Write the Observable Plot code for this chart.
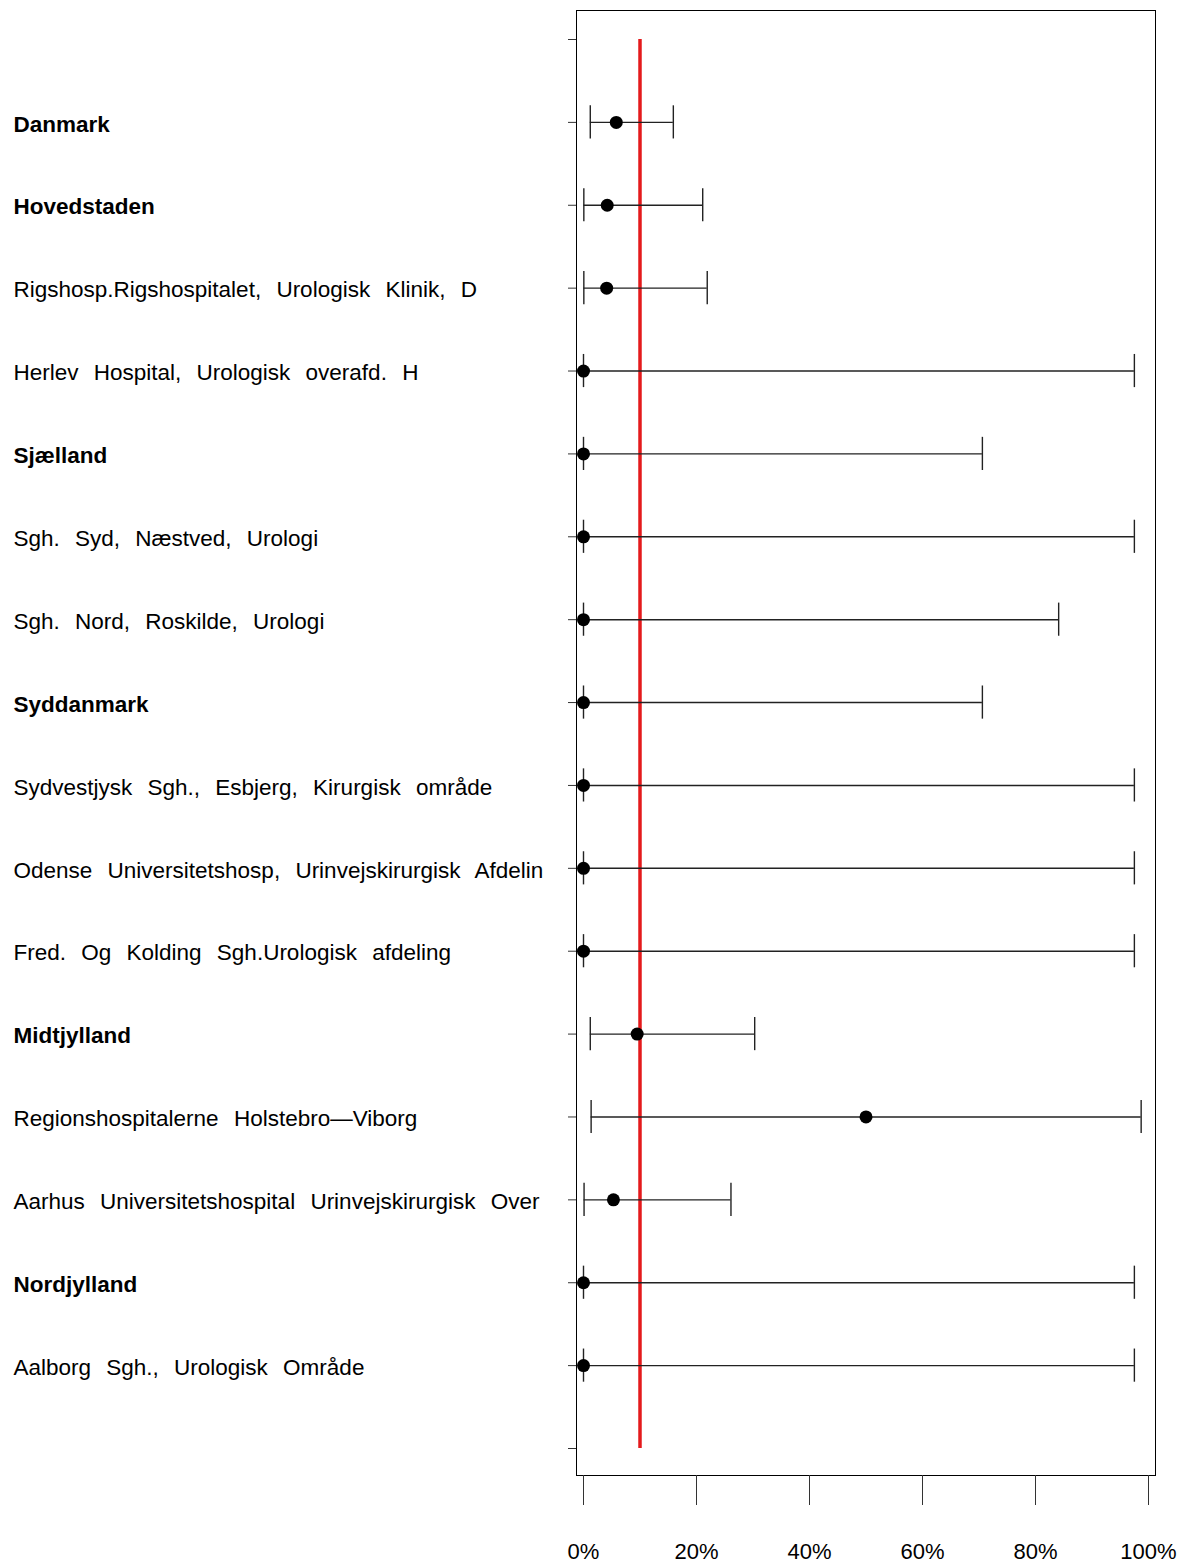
<!DOCTYPE html>
<html>
<head>
<meta charset="utf-8">
<script src="https://cdn.jsdelivr.net/npm/d3@7"></script>
<script src="https://cdn.jsdelivr.net/npm/@observablehq/plot@0.6"></script>
<style>
  html, body { margin: 0; padding: 0; background: #fff; }
  #chart svg { display: block; }
  #chart svg g.row-labels text { word-spacing: 9px; }
</style>
</head>
<body>
<div id="chart"></div>
<script>
// Units, top to bottom
const labels = [
  "Danmark",
  "Hovedstaden",
  "Rigshosp.Rigshospitalet, Urologisk Klinik, D",
  "Herlev Hospital, Urologisk overafd. H",
  "Sjælland",
  "Sgh. Syd, Næstved, Urologi",
  "Sgh. Nord, Roskilde, Urologi",
  "Syddanmark",
  "Sydvestjysk Sgh., Esbjerg, Kirurgisk område",
  "Odense Universitetshosp, Urinvejskirurgisk Afdelin",
  "Fred. Og Kolding Sgh.Urologisk afdeling",
  "Midtjylland",
  "Regionshospitalerne Holstebro\u2014Viborg",
  "Aarhus Universitetshospital Urinvejskirurgisk Over",
  "Nordjylland",
  "Aalborg Sgh., Urologisk Område"
];
const isRegion = [true, true, false, false, true, false, false, true, false, false, false, true, false, false, true, false];
// Estimates and 95% confidence limits, percent
const estimate = [5.8, 4.2, 4.1, 0, 0, 0, 0, 0, 0, 0, 0, 9.5, 50, 5.3, 0, 0];
const lower    = [1.2, 0.06, 0.06, 0, 0, 0, 0, 0, 0, 0, 0, 1.2, 1.35, 0.1, 0, 0];
const upper    = [15.9, 21.1, 21.9, 97.5, 70.6, 97.5, 84.1, 70.6, 97.5, 97.5, 97.5, 30.3, 98.7, 26.1, 97.5, 97.5];
const target = 10;
const xTicks = [0, 20, 40, 60, 80, 100];

const rows = labels.map((label, i) => ({
  pos: i + 1,
  label,
  region: isRegion[i],
  est: estimate[i],
  lo: lower[i],
  hi: upper[i]
}));
const yTickPositions = d3.range(0, labels.length + 2);
const capHalf = 0.2;

const W = 1186, H = 1564;
const labelOpts = {
  y: "pos",
  text: "label",
  frameAnchor: "left",
  dx: -563,
  dy: 2,
  textAnchor: "start",
  fontSize: 22.5,
  fill: "#000",
  className: "row-labels"
};
const chart = Plot.plot({
  width: W,
  height: H,
  marginLeft: 576,
  marginRight: 31,
  marginTop: 10,
  marginBottom: 89,
  style: { fontFamily: "'Liberation Sans', Arial, Helvetica, sans-serif", background: "#fff" },
  x: { domain: [0, 100], range: [583, 1148] },
  y: { domain: [0, labels.length + 1], range: [39, 1448] },
  marks: [
    Plot.frame({ stroke: "#000", strokeWidth: 1 }),
    Plot.axisX(xTicks, {
      tickSize: 30,
      tickPadding: 38,
      tickFormat: d => d + "%",
      fontSize: 22,
      stroke: "#333",
      fill: "#000",
      label: null
    }),
    Plot.axisY(yTickPositions, {
      tickSize: 8,
      tickFormat: () => "",
      stroke: "#333",
      label: null
    }),
    // row labels
    Plot.text(rows.filter(d => d.region), { ...labelOpts, fontWeight: "bold" }),
    Plot.text(rows.filter(d => !d.region), { ...labelOpts, fontWeight: "normal" }),
    // target line
    Plot.ruleX([target], { y1: 0, y2: labels.length + 1, stroke: "#e41a1c", strokeWidth: 3.5 }),
    // CI lines
    Plot.ruleY(rows, { y: "pos", x1: "lo", x2: "hi", stroke: "#222", strokeWidth: 1.4 }),
    Plot.ruleX(rows, { x: "lo", y1: d => d.pos - capHalf, y2: d => d.pos + capHalf, stroke: "#222", strokeWidth: 1.4 }),
    Plot.ruleX(rows, { x: "hi", y1: d => d.pos - capHalf, y2: d => d.pos + capHalf, stroke: "#222", strokeWidth: 1.4 }),
    // estimates
    Plot.dot(rows, { x: "est", y: "pos", r: 6.5, fill: "#000", stroke: "none" })
  ]
});
document.getElementById("chart").appendChild(chart);
</script>
</body>
</html>
